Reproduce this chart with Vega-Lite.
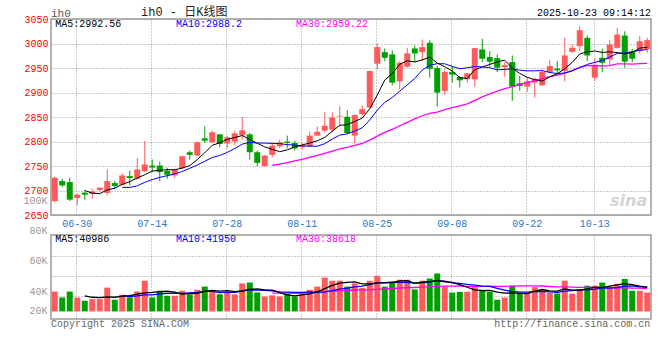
{
  "$schema": "https://vega.github.io/schema/vega-lite/v6.json",
  "background": "white",
  "padding": {"left": 22, "top": 5, "right": 5, "bottom": 5},
  "bounds": "flush",
  "spacing": 20,
  "config": {
    "view": {"stroke": "#999999", "strokeWidth": 1.5},
    "axis": {"labelFont": "Liberation Mono", "labelFontSize": 10, "gridColor": "#999999", "gridDash": [1, 2], "gridWidth": 1, "ticks": false, "domain": false},
    "text": {"font": "Liberation Mono", "fontSize": 10}
  },
  "datasets": {
    "k": [
      {"d":"06-25","o":2678.6,"h":2728.7,"l":2675.2,"c":2726.0,"v":39130},
      {"d":"06-26","o":2719.2,"h":2724.0,"l":2707.0,"c":2710.4,"v":35260},
      {"d":"06-27","o":2717.2,"h":2726.0,"l":2678.6,"c":2681.3,"v":39130},
      {"d":"06-30","o":2684.7,"h":2693.5,"l":2669.8,"c":2691.5,"v":35170},
      {"d":"07-01","o":2695.5,"h":2698.9,"l":2681.3,"c":2691.5,"v":33070},
      {"d":"07-02","o":2693.5,"h":2703.6,"l":2683.3,"c":2698.2,"v":34160},
      {"d":"07-03","o":2700.9,"h":2707.0,"l":2698.2,"c":2705.7,"v":34160},
      {"d":"07-04","o":2695.0,"h":2742.9,"l":2690.1,"c":2719.2,"v":41740},
      {"d":"07-07","o":2715.2,"h":2719.2,"l":2702.3,"c":2709.1,"v":33740},
      {"d":"07-08","o":2711.8,"h":2734.8,"l":2710.4,"c":2730.7,"v":37030},
      {"d":"07-09","o":2729.4,"h":2740.9,"l":2710.4,"c":2725.3,"v":35340},
      {"d":"07-10","o":2723.9,"h":2766.6,"l":2722.6,"c":2742.9,"v":39130},
      {"d":"07-11","o":2739.5,"h":2801.0,"l":2737.5,"c":2753.0,"v":46290},
      {"d":"07-14","o":2751.0,"h":2763.2,"l":2737.5,"c":2746.9,"v":35260},
      {"d":"07-15","o":2751.0,"h":2759.1,"l":2719.2,"c":2737.5,"v":39640},
      {"d":"07-16","o":2740.2,"h":2746.9,"l":2723.9,"c":2732.1,"v":36350},
      {"d":"07-17","o":2730.7,"h":2744.2,"l":2725.3,"c":2742.2,"v":36350},
      {"d":"07-18","o":2745.6,"h":2771.3,"l":2744.2,"c":2769.9,"v":39640},
      {"d":"07-21","o":2778.1,"h":2781.5,"l":2763.2,"c":2772.7,"v":37280},
      {"d":"07-22","o":2771.3,"h":2799.7,"l":2769.9,"c":2798.4,"v":40310},
      {"d":"07-23","o":2806.5,"h":2830.8,"l":2797.0,"c":2801.8,"v":42410},
      {"d":"07-24","o":2798.4,"h":2822.1,"l":2797.0,"c":2818.7,"v":39640},
      {"d":"07-25","o":2814.6,"h":2815.5,"l":2788.2,"c":2795.0,"v":37360},
      {"d":"07-28","o":2795.7,"h":2811.9,"l":2786.2,"c":2808.5,"v":38790},
      {"d":"07-29","o":2799.7,"h":2822.1,"l":2791.6,"c":2816.6,"v":37280},
      {"d":"07-30","o":2813.3,"h":2849.8,"l":2803.8,"c":2822.7,"v":44520},
      {"d":"07-31","o":2814.6,"h":2817.3,"l":2763.2,"c":2778.1,"v":45110},
      {"d":"08-01","o":2778.1,"h":2781.5,"l":2749.7,"c":2756.4,"v":38540},
      {"d":"08-04","o":2749.7,"h":2772.0,"l":2749.0,"c":2771.3,"v":35850},
      {"d":"08-05","o":2772.7,"h":2798.4,"l":2767.9,"c":2791.6,"v":36610},
      {"d":"08-06","o":2790.2,"h":2803.8,"l":2786.2,"c":2798.4,"v":35850},
      {"d":"08-07","o":2799.7,"h":2811.9,"l":2786.2,"c":2797.0,"v":37530},
      {"d":"08-08","o":2797.0,"h":2801.8,"l":2781.5,"c":2786.2,"v":35850},
      {"d":"08-11","o":2788.2,"h":2797.0,"l":2783.5,"c":2791.6,"v":38540},
      {"d":"08-12","o":2790.2,"h":2820.0,"l":2788.2,"c":2811.9,"v":40310},
      {"d":"08-13","o":2811.9,"h":2830.8,"l":2810.5,"c":2820.0,"v":42410},
      {"d":"08-14","o":2822.1,"h":2860.6,"l":2818.7,"c":2832.2,"v":48390},
      {"d":"08-15","o":2824.1,"h":2859.3,"l":2818.7,"c":2849.1,"v":46290},
      {"d":"08-18","o":2851.1,"h":2871.5,"l":2830.8,"c":2852.5,"v":46290},
      {"d":"08-19","o":2850.5,"h":2864.0,"l":2815.3,"c":2817.3,"v":42410},
      {"d":"08-20","o":2811.9,"h":2855.9,"l":2797.0,"c":2853.9,"v":44520},
      {"d":"08-21","o":2855.9,"h":2874.2,"l":2852.5,"c":2866.0,"v":41570},
      {"d":"08-22","o":2869.4,"h":2944.5,"l":2868.5,"c":2943.8,"v":46290},
      {"d":"08-25","o":2958.7,"h":3000.0,"l":2947.2,"c":2992.6,"v":49570},
      {"d":"08-26","o":2982.4,"h":2989.9,"l":2964.1,"c":2970.9,"v":42410},
      {"d":"08-27","o":2977.7,"h":2985.8,"l":2914.7,"c":2920.2,"v":45610},
      {"d":"08-28","o":2922.9,"h":2964.1,"l":2906.6,"c":2960.7,"v":46960},
      {"d":"08-29","o":2952.6,"h":2991.2,"l":2950.6,"c":2979.7,"v":46960},
      {"d":"09-01","o":2989.9,"h":2995.9,"l":2962.1,"c":2979.7,"v":40560},
      {"d":"09-02","o":2982.4,"h":3008.0,"l":2964.1,"c":2992.6,"v":46290},
      {"d":"09-03","o":3001.4,"h":3006.8,"l":2930.3,"c":2948.6,"v":47720},
      {"d":"09-04","o":2949.9,"h":2954.0,"l":2871.5,"c":2899.9,"v":51080},
      {"d":"09-05","o":2903.2,"h":2947.2,"l":2895.1,"c":2941.8,"v":42410},
      {"d":"09-08","o":2941.8,"h":2954.0,"l":2920.2,"c":2936.4,"v":38460},
      {"d":"09-09","o":2931.7,"h":2933.7,"l":2910.0,"c":2924.9,"v":38960},
      {"d":"09-10","o":2926.9,"h":2939.8,"l":2920.2,"c":2939.1,"v":38960},
      {"d":"09-11","o":2926.9,"h":2991.0,"l":2912.0,"c":2990.5,"v":42080},
      {"d":"09-12","o":2987.8,"h":3009.5,"l":2962.1,"c":2968.9,"v":40310},
      {"d":"09-15","o":2972.3,"h":2984.4,"l":2952.6,"c":2962.8,"v":38960},
      {"d":"09-16","o":2970.2,"h":2977.7,"l":2941.8,"c":2950.6,"v":33740},
      {"d":"09-17","o":2952.0,"h":2962.1,"l":2932.3,"c":2956.0,"v":35170},
      {"d":"09-18","o":2962.1,"h":2975.6,"l":2883.0,"c":2912.0,"v":43000},
      {"d":"09-19","o":2918.8,"h":2933.7,"l":2903.2,"c":2913.4,"v":38460},
      {"d":"09-22","o":2912.0,"h":2931.7,"l":2901.2,"c":2922.9,"v":38540},
      {"d":"09-23","o":2920.2,"h":2930.3,"l":2889.7,"c":2926.9,"v":42080},
      {"d":"09-24","o":2914.7,"h":2947.2,"l":2913.4,"c":2941.8,"v":40310},
      {"d":"09-25","o":2941.8,"h":2966.2,"l":2939.1,"c":2954.0,"v":38200},
      {"d":"09-26","o":2948.6,"h":2964.1,"l":2937.1,"c":2945.2,"v":37870},
      {"d":"09-29","o":2943.8,"h":3011.5,"l":2922.2,"c":2975.6,"v":46290},
      {"d":"09-30","o":2983.1,"h":2998.0,"l":2981.0,"c":2991.2,"v":37780},
      {"d":"10-09","o":2994.6,"h":3035.2,"l":2984.4,"c":3027.1,"v":39890},
      {"d":"10-10","o":3011.5,"h":3016.2,"l":2964.1,"c":2975.6,"v":43000},
      {"d":"10-13","o":2930.3,"h":2968.9,"l":2923.5,"c":2954.0,"v":43000},
      {"d":"10-14","o":2970.9,"h":2989.2,"l":2941.8,"c":2960.7,"v":45110},
      {"d":"10-15","o":2967.5,"h":3006.8,"l":2955.3,"c":2998.0,"v":42330},
      {"d":"10-16","o":2991.2,"h":3031.8,"l":2989.2,"c":3018.3,"v":44260},
      {"d":"10-17","o":3016.2,"h":3025.0,"l":2950.6,"c":2962.8,"v":47460},
      {"d":"10-20","o":2982.4,"h":2989.2,"l":2962.1,"c":2968.9,"v":39640},
      {"d":"10-21","o":2984.4,"h":3014.9,"l":2979.7,"c":3004.7,"v":39640},
      {"d":"10-22","o":2987.8,"h":3011.5,"l":2981.0,"c":3006.8,"v":38460}
    ]
  },
  "vconcat": [
    {
      "width": 600,
      "height": 196,
      "data": {"name": "k"},
      "encoding": {
        "x": {"field": "d", "type": "ordinal", "scale": {"paddingInner": 0, "paddingOuter": 0},
          "axis": {"title": null, "values": ["06-30","07-14","07-28","08-11","08-25","09-08","09-22","10-13"], "tickCount": 20, "bandPosition": 0.4, "labelAngle": 0, "labelColor": "#1f77d0", "labelPadding": 3, "labelFlush": false, "labelOverlap": false, "grid": true}}
      },
      "layer": [
        {
          "mark": {"type": "rule", "strokeWidth": 1},
          "encoding": {
            "y": {"field": "l", "type": "quantitative", "scale": {"domain": [2650, 3050], "zero": false, "nice": false},
              "axis": {"title": null, "values": [2650,2700,2750,2800,2850,2900,2950,3000,3050], "tickCount": 12, "format": "d", "labelColor": "#ff0000", "labelPadding": 3, "labelOverlap": false, "labelFlush": false, "grid": true}},
            "y2": {"field": "h"},
            "color": {"condition": {"test": "datum.c >= datum.o", "value": "#ff5a5a"}, "value": "#00a000"}
          }
        },
        {
          "mark": {"type": "bar", "width": {"band": 0.8}},
          "encoding": {
            "y": {"field": "o", "type": "quantitative"},
            "y2": {"field": "c"},
            "color": {"condition": {"test": "datum.c >= datum.o", "value": "#ff5a5a"}, "value": "#00a000"}
          }
        },
        {
          "transform": [
            {"window": [{"op": "mean", "field": "c", "as": "m"}, {"op": "count", "as": "n"}], "frame": [-29, 0], "sort": [{"field": "d"}]},
            {"filter": "datum.n >= 30"}
          ],
          "mark": {"type": "line", "color": "#ff00ff", "strokeWidth": 1.3},
          "encoding": {"y": {"field": "m", "type": "quantitative"}}
        },
        {
          "transform": [
            {"window": [{"op": "mean", "field": "c", "as": "m"}, {"op": "count", "as": "n"}], "frame": [-9, 0], "sort": [{"field": "d"}]},
            {"filter": "datum.n >= 10"}
          ],
          "mark": {"type": "line", "color": "#0000ff", "strokeWidth": 1},
          "encoding": {"y": {"field": "m", "type": "quantitative"}}
        },
        {
          "transform": [
            {"window": [{"op": "mean", "field": "c", "as": "m"}, {"op": "count", "as": "n"}], "frame": [-4, 0], "sort": [{"field": "d"}]},
            {"filter": "datum.n >= 5"}
          ],
          "mark": {"type": "line", "color": "#000000", "strokeWidth": 1},
          "encoding": {"y": {"field": "m", "type": "quantitative"}}
        },
        {
          "data": {"values": [{"t": "MA5:2992.56"}]},
          "mark": {"type": "text", "align": "left", "baseline": "middle", "color": "#000000", "dx": 0.5},
          "encoding": {"x": {"datum": "06-25", "type": "ordinal"}, "y": {"datum": 3039.2, "type": "quantitative"}, "text": {"field": "t"}}
        },
        {
          "data": {"values": [{"t": "MA10:2988.2"}]},
          "mark": {"type": "text", "align": "left", "baseline": "middle", "color": "#0000ff", "dx": 1.25},
          "encoding": {"x": {"datum": "07-17", "type": "ordinal"}, "y": {"datum": 3039.2, "type": "quantitative"}, "text": {"field": "t"}}
        },
        {
          "data": {"values": [{"t": "MA30:2959.22"}]},
          "mark": {"type": "text", "align": "left", "baseline": "middle", "color": "#ff00ff", "dx": 1.25},
          "encoding": {"x": {"datum": "08-08", "type": "ordinal"}, "y": {"datum": 3039.2, "type": "quantitative"}, "text": {"field": "t"}}
        },
        {
          "data": {"values": [{"t": "ih0"}]},
          "mark": {"type": "text", "align": "left", "baseline": "middle", "color": "#555555", "dx": -3.75, "fontSize": 11},
          "encoding": {"x": {"datum": "06-25", "type": "ordinal"}, "y": {"datum": 3060.8, "type": "quantitative"}, "text": {"field": "t"}}
        },
        {
          "data": {"values": [{"t": "ih0 - 日K线图"}]},
          "mark": {"type": "text", "align": "left", "baseline": "middle", "color": "#222222", "dx": -3.75, "fontSize": 12, "font": "Liberation Mono, Noto Sans CJK SC"},
          "encoding": {"x": {"datum": "07-11", "type": "ordinal"}, "y": {"datum": 3064.7, "type": "quantitative"}, "text": {"field": "t"}}
        },
        {
          "data": {"values": [{"t": "2025-10-23 09:14:12"}]},
          "mark": {"type": "text", "align": "right", "baseline": "middle", "color": "#000000", "dx": 3.75},
          "encoding": {"x": {"datum": "10-22", "type": "ordinal"}, "y": {"datum": 3061.8, "type": "quantitative"}, "text": {"field": "t"}}
        },
        {
          "data": {"values": [{"t": "sina"}]},
          "mark": {"type": "text", "align": "right", "baseline": "middle", "color": "#d4d4d4", "dx": 0, "fontSize": 16, "font": "DejaVu Sans", "fontStyle": "italic", "fontWeight": "bold"},
          "encoding": {"x": {"datum": "10-22", "type": "ordinal"}, "y": {"datum": 2678.6, "type": "quantitative"}, "text": {"field": "t"}}
        }
      ]
    },
    {
      "width": 600,
      "height": 84,
      "data": {"name": "k"},
      "encoding": {
        "x": {"field": "d", "type": "ordinal", "scale": {"paddingInner": 0, "paddingOuter": 0},
          "axis": {"title": null, "values": ["06-30","07-14","07-28","08-11","08-25","09-08","09-22","10-13"], "tickCount": 20, "bandPosition": 0.4, "labels": false, "grid": true}}
      },
      "layer": [
        {
          "mark": {"type": "bar", "width": {"band": 0.8}},
          "encoding": {
            "y": {"field": "v", "type": "quantitative", "scale": {"domain": [21000, 76500], "zero": false, "nice": false},
              "axis": {"title": null, "values": [36200, 49400, 62600], "tickCount": 5, "labels": false, "grid": true}},
            "y2": {"datum": 26000},
            "color": {"condition": {"test": "datum.c >= datum.o", "value": "#ff5a5a"}, "value": "#00a000"}
          }
        },
        {
          "transform": [
            {"window": [{"op": "mean", "field": "v", "as": "m"}, {"op": "count", "as": "n"}], "frame": [-29, 0], "sort": [{"field": "d"}]},
            {"filter": "datum.n >= 30"}
          ],
          "mark": {"type": "line", "color": "#ff00ff", "strokeWidth": 1.3},
          "encoding": {"y": {"field": "m", "type": "quantitative"}}
        },
        {
          "transform": [
            {"window": [{"op": "mean", "field": "v", "as": "m"}, {"op": "count", "as": "n"}], "frame": [-9, 0], "sort": [{"field": "d"}]},
            {"filter": "datum.n >= 10"}
          ],
          "mark": {"type": "line", "color": "#0000ff", "strokeWidth": 1.3},
          "encoding": {"y": {"field": "m", "type": "quantitative"}}
        },
        {
          "transform": [
            {"window": [{"op": "mean", "field": "v", "as": "m"}, {"op": "count", "as": "n"}], "frame": [-4, 0], "sort": [{"field": "d"}]},
            {"filter": "datum.n >= 5"}
          ],
          "mark": {"type": "line", "color": "#000000", "strokeWidth": 1.3},
          "encoding": {"y": {"field": "m", "type": "quantitative"}}
        },
        {
          "data": {"values": [{"t": "100K", "v": 100000}, {"t": "80K", "v": 80000}, {"t": "60K", "v": 60000}, {"t": "40K", "v": 40000}]},
          "mark": {"type": "text", "align": "right", "baseline": "middle", "color": "#999999", "dx": -7.25, "dy": 1.3},
          "encoding": {"x": {"datum": "06-25", "type": "ordinal"}, "y": {"field": "v", "type": "quantitative"}, "text": {"field": "t"}}
        },
        {
          "data": {"values": [{"t": "20K"}]},
          "mark": {"type": "text", "align": "right", "baseline": "middle", "color": "#999999", "dx": -7.25, "dy": -9.5},
          "encoding": {"x": {"datum": "06-25", "type": "ordinal"}, "y": {"datum": 20000, "type": "quantitative"}, "text": {"field": "t"}}
        },
        {
          "data": {"values": [{"t": "MA5:40986"}]},
          "mark": {"type": "text", "align": "left", "baseline": "middle", "color": "#000000", "dx": 0.5},
          "encoding": {"x": {"datum": "06-25", "type": "ordinal"}, "y": {"datum": 74055, "type": "quantitative"}, "text": {"field": "t"}}
        },
        {
          "data": {"values": [{"t": "MA10:41950"}]},
          "mark": {"type": "text", "align": "left", "baseline": "middle", "color": "#0000ff", "dx": 1.25},
          "encoding": {"x": {"datum": "07-17", "type": "ordinal"}, "y": {"datum": 74055, "type": "quantitative"}, "text": {"field": "t"}}
        },
        {
          "data": {"values": [{"t": "MA30:38618"}]},
          "mark": {"type": "text", "align": "left", "baseline": "middle", "color": "#ff00ff", "dx": 1.25},
          "encoding": {"x": {"datum": "08-08", "type": "ordinal"}, "y": {"datum": 74055, "type": "quantitative"}, "text": {"field": "t"}}
        },
        {
          "data": {"values": [{"t": "Copyright 2025 SINA.COM"}]},
          "mark": {"type": "text", "align": "left", "baseline": "middle", "color": "#666666", "dx": -3.75},
          "encoding": {"x": {"datum": "06-25", "type": "ordinal"}, "y": {"datum": 17670, "type": "quantitative"}, "text": {"field": "t"}}
        },
        {
          "data": {"values": [{"t": "http://finance.sina.com.cn"}]},
          "mark": {"type": "text", "align": "right", "baseline": "middle", "color": "#666666", "dx": 3.1},
          "encoding": {"x": {"datum": "10-22", "type": "ordinal"}, "y": {"datum": 17670, "type": "quantitative"}, "text": {"field": "t"}}
        }
      ]
    }
  ]
}
